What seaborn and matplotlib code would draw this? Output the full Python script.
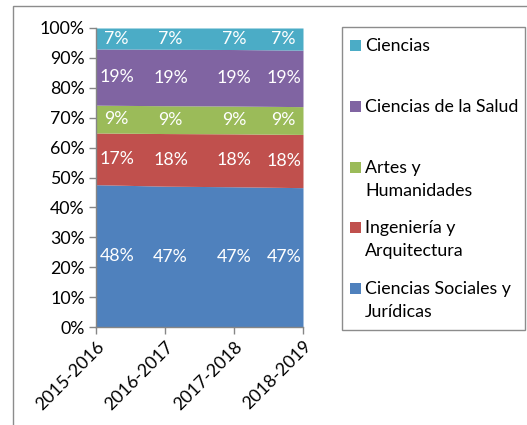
import matplotlib
matplotlib.use("Agg")
import matplotlib.pyplot as plt
import seaborn as sns
import numpy as np
from matplotlib.patches import Rectangle

# Data (percent share per academic year)
years = ['2015-2016', '2016-2017', '2017-2018', '2018-2019']
series = ['Ciencias Sociales y Jurídicas', 'Ingeniería y Arquitectura',
          'Artes y Humanidades', 'Ciencias de la Salud', 'Ciencias']
sociales = [47.6, 47.1, 46.9, 46.6]
ingenieria = [17.3, 17.6, 17.7, 17.8]
artes = [9.3, 9.3, 9.3, 9.3]
salud = [18.8, 18.9, 18.9, 18.9]
ciencias = [7.0, 7.1, 7.2, 7.4]
labels_sociales = ['48%', '47%', '47%', '47%']
labels_ingenieria = ['17%', '18%', '18%', '18%']
labels_artes = ['9%', '9%', '9%', '9%']
labels_salud = ['19%', '19%', '19%', '19%']
labels_ciencias = ['7%', '7%', '7%', '7%']
legend_labels = ['Ciencias', 'Ciencias de la Salud', 'Artes y\nHumanidades',
                 'Ingeniería y\nArquitectura', 'Ciencias Sociales y\nJurídicas']

colors = ['#4F81BD', '#C0504D', '#9BBB59', '#8064A2', '#4BACC6']
FS = 12.8

sns.set_theme(style="white")
plt.rcParams['font.family'] = ['Lato', 'DejaVu Sans']

W, H = 527, 425
fig = plt.figure(figsize=(W / 100, H / 100), dpi=100)
ax = fig.add_axes([96 / W, 1 - 327 / H, (303 - 96) / W, (327 - 28) / H])

values = np.array([sociales, ingenieria, artes, salud, ciencias])
shares = values / values.sum(axis=0)
x = np.arange(len(years))
ax.stackplot(x, shares, colors=colors, linewidth=0)

# data labels, centred in each band
label_x = [0.3, 1.08, 2.0, 2.72]
all_labels = [labels_sociales, labels_ingenieria, labels_artes, labels_salud, labels_ciencias]
cum = np.vstack([np.zeros(len(years)), np.cumsum(shares, axis=0)])
for i, labs in enumerate(all_labels):
    for j, lab in enumerate(labs):
        lx = label_x[j]
        lo = np.interp(lx, x, cum[i])
        hi = np.interp(lx, x, cum[i + 1])
        ax.text(lx, (lo + hi) / 2, lab, color='white', fontsize=FS,
                ha='center', va='center', clip_on=True)

ax.set_xlim(0, 3)
ax.set_ylim(0, 1)
ticks = np.arange(0, 1.01, 0.1)
ax.set_yticks(ticks)
ax.set_yticklabels([f'{int(round(v * 100))}%' for v in ticks],
                   fontsize=FS, color='black')
ax.set_xticks(x)
ax.set_xticklabels(years, rotation=45, ha='right', va='top',
                   rotation_mode='anchor', fontsize=FS, color='black')
ax.tick_params(axis='both', which='both', direction='out', length=5,
               color='#868686', width=1, left=True, bottom=True, pad=3)
for side in ['top', 'right']:
    ax.spines[side].set_visible(False)
for side in ['left', 'bottom']:
    ax.spines[side].set_color('#868686')
    ax.spines[side].set_linewidth(1)

# outer chart border (extends past the image on right/bottom)
fig.patches.append(Rectangle((13 / W, -0.1), 1.2, 1 - 6 / H + 0.1,
                             transform=fig.transFigure, fill=False,
                             edgecolor='#8C8C8C', linewidth=1))

# legend box drawn by hand to mimic the spreadsheet layout
fig.patches.append(Rectangle((342 / W, 1 - 330 / H), (525 - 342) / W, (330 - 27) / H,
                             transform=fig.transFigure, fill=False,
                             edgecolor='#8C8C8C', linewidth=1))
legend_colors = colors[::-1]
entry_y = [46, 107, 168, 228, 289]
for lab, col, yy in zip(legend_labels, legend_colors, entry_y):
    fig.patches.append(Rectangle((350 / W, 1 - (yy + 5) / H), 11 / W, 11 / H,
                                 transform=fig.transFigure, facecolor=col,
                                 edgecolor='none'))
    for k, line in enumerate(lab.split('\n')):
        fig.text(365 / W, 1 - (yy + 23 * k) / H, line, fontsize=FS,
                 color='black', ha='left', va='center')

fig.savefig('out.png', dpi=100)
